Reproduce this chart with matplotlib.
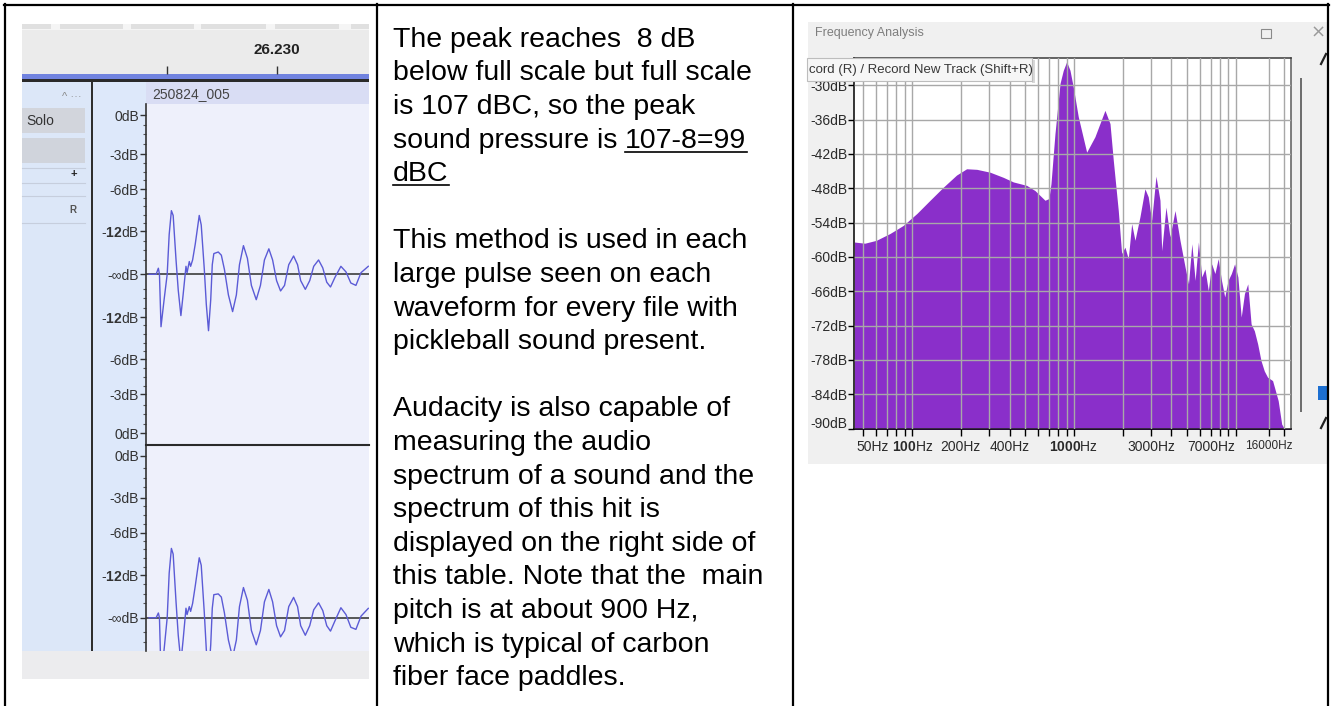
import matplotlib
matplotlib.use("Agg")
import matplotlib.pyplot as plt
from matplotlib.patches import Rectangle
from matplotlib.ticker import FixedLocator, NullFormatter, FixedFormatter
from matplotlib.transforms import ScaledTranslation

plt.rcParams['font.family'] = ['Liberation Sans', 'DejaVu Sans']
plt.rcParams['mathtext.fontset'] = 'custom'
plt.rcParams['mathtext.rm'] = 'Liberation Sans'
plt.rcParams['mathtext.bf'] = 'Liberation Sans:bold'

W, H = 1331, 706

# --- Audacity waveform: time in ms after 26.220 s, amplitude on the dB display (0 dB mark = 1)
wave_t = [4.23, 4.55, 4.65, 4.70, 4.77, 4.91, 5.05, 5.14, 5.24, 5.32, 5.45, 5.55, 5.67, 5.77,
          5.90, 5.95, 6.05, 6.11, 6.20, 6.32, 6.50, 6.59, 6.73, 6.82, 6.92, 7.02, 7.09, 7.16,
          7.36, 7.50, 7.64, 7.82, 8.01, 8.18, 8.32, 8.50, 8.68, 8.86, 9.08, 9.27, 9.45, 9.65,
          9.82, 10.0, 10.18, 10.36, 10.55, 10.77, 10.95, 11.09, 11.30, 11.50, 11.68, 11.90,
          12.09, 12.27, 12.44, 12.64, 12.91, 13.14, 13.36, 13.59, 13.82, 14.15]
wave_left = [0, 0, 0.038, 0, -0.33, -0.16, 0, 0.25, 0.40, 0.37, 0.09, -0.10, -0.26, -0.13,
             0.05, 0.01, 0.08, 0.05, 0.09, 0.19, 0.37, 0.31, 0.03, -0.19, -0.355, -0.16, 0.06, 0.13,
             0.14, 0.12, 0.03, -0.13, -0.235, -0.13, 0.06, 0.18, 0.10, -0.07, -0.16, -0.07, 0.09, 0.16,
             0.09, -0.04, -0.105, -0.07, 0.06, 0.115, 0.06, -0.04, -0.095, -0.04, 0.05, 0.09,
             0.04, -0.05, -0.08, -0.02, 0.05, 0.015, -0.055, -0.07, 0.01, 0.05]
wave_right = [0, 0, 0.03, 0, -0.36, -0.20, 0, 0.28, 0.436, 0.40, 0.10, -0.11, -0.28, -0.14,
              0.06, 0.02, 0.07, 0.04, 0.09, 0.20, 0.377, 0.33, 0.03, -0.20, -0.37, -0.17, 0.06, 0.145,
              0.15, 0.13, 0.03, -0.14, -0.25, -0.14, 0.07, 0.19, 0.11, -0.08, -0.17, -0.08, 0.10, 0.178,
              0.10, -0.05, -0.12, -0.08, 0.07, 0.128, 0.07, -0.05, -0.11, -0.05, 0.05, 0.094,
              0.045, -0.05, -0.084, -0.02, 0.063, 0.02, -0.06, -0.073, 0.01, 0.059]

db_pos_left = [1.0, 0.755, 0.535, 0.27, 0.0, -0.27, -0.535, -0.755, -1.0]
db_lab_left = ['0dB', '-3dB', '-6dB', r'-$\mathbf{12}$dB', '-\u221edB',
               r'-$\mathbf{12}$dB', '-6dB', '-3dB', '0dB']
db_pos_right = [1.017, 0.755, 0.535, 0.27, 0.0]
db_lab_right = ['0dB', '-3dB', '-6dB', r'-$\mathbf{12}$dB', '-\u221edB']
db_minor = [0.94, 0.88, 0.82, 0.70, 0.645, 0.59, 0.48, 0.43, 0.375, 0.32, 0.21, 0.15, 0.09]

# --- Frequency analysis spectrum
spec_freq = [44, 51, 60, 73, 88, 107, 129, 156, 188, 217, 251, 303, 366, 422, 510,
             574, 662, 700, 721, 763, 820, 859, 901, 945, 990, 1063, 1198, 1348, 1554, 1670,
             1750, 1879, 1971, 2066, 2166, 2273, 2383, 2557, 2745, 2878, 3020, 3213, 3401, 3486, 3702,
             3919, 4213, 4522, 4863, 5103, 5353, 5608, 5877, 6164, 6454, 6766, 7096, 7432, 7787, 8163,
             8551, 8959, 9391, 9838, 10306, 10806, 11319, 11864, 12440, 13030, 13660, 14320, 15000, 15720,
             16890, 18290, 19230, 20000, 21950]
spec_db = [-57.4, -57.6, -57.1, -55.9, -54.5, -52.4, -50.1, -47.8, -45.7, -44.6, -44.7, -45.2, -46.1, -46.9, -47.5,
           -48.4, -50.1, -49.8, -47.2, -38.5, -29.7, -27.4, -25.9, -27.4, -30.3, -35.5, -41.7, -39.0, -34.4, -36.7,
           -43.1, -51.9, -59.4, -58.3, -60.3, -54.2, -57.1, -53.0, -48.1, -49.5, -53.6, -45.9, -50.1, -58.9, -51.3,
           -56.5, -51.9, -57.1, -61.8, -64.7, -57.7, -64.1, -57.4, -63.5, -62.1, -65.9, -61.2, -62.9, -60.3, -64.1,
           -67.0, -64.1, -62.9, -61.2, -63.5, -70.5, -66.4, -64.7, -71.7, -72.9, -75.2, -78.1, -79.9, -81.0,
           -81.6, -85.1, -89.2, -90, -90]
freq_labels = [50, 100, 200, 400, 1000, 3000, 7000, 16000]
freq_label_text = ['50Hz', r'$\mathbf{100}$Hz', '200Hz', '400Hz', r'$\mathbf{1000}$Hz',
                   '3000Hz', '7000Hz', '16000Hz']
freq_grid = [60, 70, 80, 90, 300, 500, 600, 700, 800, 900, 2000, 4000, 5000, 6000,
             8000, 9000, 10000, 20000]
db_ticks = [-30, -36, -42, -48, -54, -60, -66, -72, -78, -84, -90]

text_lines = [
    "The peak reaches  8 dB",
    "below full scale but full scale",
    "is 107 dBC, so the peak",
    "sound pressure is ",
    "",
    "",
    "This method is used in each",
    "large pulse seen on each",
    "waveform for every file with",
    "pickleball sound present.",
    "",
    "Audacity is also capable of",
    "measuring the audio",
    "spectrum of a sound and the",
    "spectrum of this hit is",
    "displayed on the right side of",
    "this table. Note that the  main",
    "pitch is at about 900 Hz,",
    "which is typical of carbon",
    "fiber face paddles.",
]
TEXT_SIZE = 20.5

fig = plt.figure(figsize=(W / 100, H / 100), dpi=100)
fig.patch.set_facecolor('white')


def px_axes(x0, y0, x1, y1):
    return fig.add_axes([x0 / W, 1 - y1 / H, (x1 - x0) / W, (y1 - y0) / H])


def canvas_axes():
    a = fig.add_axes([0, 0, 1, 1])
    a.set_xlim(0, W)
    a.set_ylim(H, 0)
    a.axis('off')
    a.patch.set_alpha(0)
    return a


def box(a, x0, y0, x1, y1, fc, ec='none', lw=0, z=1):
    a.add_patch(Rectangle((x0, y0), x1 - x0, y1 - y0, fc=fc, ec=ec, lw=lw, zorder=z))


bg = canvas_axes()

# table borders
for x in [4.5, 376.5, 792.5, 1328]:
    bg.plot([x, x], [3.5, H], color='black', lw=1.6, zorder=5)
bg.plot([3.5, 1329], [4.5, 4.5], color='black', lw=1.6, zorder=5)

# ---------- left cell: Audacity screenshot ----------
box(bg, 22, 24, 369, 679, '#f1f1f3')
box(bg, 22, 24, 369, 30, '#f5f5f5')
for a0, a1 in [(22, 51), (60, 123), (131, 194), (201, 266), (275, 339), (351, 369)]:
    box(bg, a0, 24, a1, 29, '#e0e0e0', z=2)
box(bg, 22, 651, 369, 679, '#ececee')
box(bg, 22, 74, 369, 78.5, '#7183df', z=2)
box(bg, 22, 78.5, 369, 82, '#2a2a2a', z=2)
box(bg, 22, 82, 91, 651, '#dce7f8', z=2)
box(bg, 91, 82, 93, 651, '#2e2e2e', z=3)
box(bg, 93, 82, 146, 651, '#dde8fa', z=2)
box(bg, 146, 82, 369, 104, '#d9ddf4', z=2)
bg.text(152, 94, '250824_005', fontsize=10, color='#444444', va='center', zorder=4)
bg.text(62, 97, '^ \u00b7\u00b7\u00b7', fontsize=8, color='#8a8a8a', va='center', zorder=4)
box(bg, 22, 108, 85, 133, '#d2d5dc', z=3)
bg.text(26, 121, 'Solo', fontsize=10, color='#333333', va='center', zorder=4)
box(bg, 22, 138, 85, 163, '#d0d4dc', z=3)
for yy in [168, 183, 196, 223]:
    bg.plot([22, 85], [yy, yy], color='#c6cedd', lw=0.8, zorder=3)
bg.text(74, 174, '+', fontsize=8, color='#222222', ha='center', va='center', weight='bold', zorder=4)
bg.text(73, 210, 'R', fontsize=7, color='#555555', ha='center', va='center', weight='bold', zorder=4)

# time ruler
ruler = px_axes(22, 30, 369, 74)
ruler.set_facecolor('#ebebeb')
ruler.set_xlim(26.218409, 26.234182)
ruler.set_ylim(0, 1)
for s in ruler.spines.values():
    s.set_visible(False)
ruler.set_yticks([])
ruler.set_xticks([26.225, 26.230])
ruler.tick_params(axis='x', direction='in', length=6, width=1, color='#333333', labelbottom=False)
ruler.text(26.230, 0.55, '26.230', fontsize=11, weight='bold', color='#222222',
           ha='center', va='center')


def wave_axes(y0, y1, ylim, t, a, pos, labels):
    ax = px_axes(146, y0, 369, y1)
    ax.set_facecolor('#eef0fb')
    ax.set_xlim(4.091, 14.182)
    ax.set_ylim(*ylim)
    ax.plot(t, a, color='#5b5bd6', lw=1.0, zorder=3)
    ax.axhline(0, color='#4a4a4a', lw=1.3, zorder=2)
    for s in ['top', 'right', 'bottom']:
        ax.spines[s].set_visible(False)
    ax.spines['left'].set_color('#333333')
    ax.spines['left'].set_linewidth(1.2)
    ax.set_xticks([])
    ax.set_yticks(pos)
    ax.set_yticklabels(labels)
    minor = [m for m in db_minor] + [-m for m in db_minor]
    ax.yaxis.set_minor_locator(FixedLocator([m for m in minor if ylim[0] < m < ylim[1]]))
    ax.tick_params(axis='y', which='major', direction='out', length=4, width=1,
                   color='#333333', labelsize=10, labelcolor='#333333', pad=1)
    ax.tick_params(axis='y', which='minor', direction='out', length=2.5, width=0.8, color='#555555')
    return ax


wave_axes(104, 445, (-1.074, 1.071), wave_t, wave_left, db_pos_left, db_lab_left)
wave_axes(445, 651, (-0.209, 1.086), wave_t, wave_right, db_pos_right, db_lab_right)
bg2 = canvas_axes()
bg2.plot([146, 369], [445, 445], color='#2a2a2a', lw=1.5)

# ---------- middle cell: text ----------
base0, step = 46.7, 33.6
renderer = fig.canvas.get_renderer()
for i, line in enumerate(text_lines):
    if line:
        bg.text(393, base0 + i * step, line, fontsize=TEXT_SIZE, color='black', va='baseline')
prefix = bg.text(393, 200, 'sound pressure is ', fontsize=TEXT_SIZE, va='baseline')
x_u = 393 + prefix.get_window_extent(renderer).width
prefix.remove()
t1 = bg.text(x_u, base0 + 3 * step, '107-8=99', fontsize=TEXT_SIZE, color='black', va='baseline')
t2 = bg.text(393, base0 + 4 * step, 'dBC', fontsize=TEXT_SIZE, color='black', va='baseline')
w1 = t1.get_window_extent(renderer).width
w2 = t2.get_window_extent(renderer).width
bg.plot([x_u, x_u + w1], [base0 + 3 * step + 4, base0 + 3 * step + 4], color='black', lw=1.2)
bg.plot([393, 393 + w2], [base0 + 4 * step + 4, base0 + 4 * step + 4], color='black', lw=1.2)

# ---------- right cell: Frequency Analysis window ----------
box(bg, 808, 22, 1327, 464, '#f0f0f0')
bg.text(815, 33, 'Frequency Analysis', fontsize=9, color='#7e7e7e', va='center')
box(bg, 1261, 29, 1271, 38, 'none', ec='#8a8a8a', lw=0.8, z=3)
bg.text(1318, 33, '\u00d7', fontsize=13, color='#9a9a9a', ha='center', va='center',
        family='DejaVu Sans')
box(bg, 1300, 78, 1302, 412, '#6e6e6e', z=3)
box(bg, 1318, 386, 1327, 400, '#1c6fd1', z=3)
bg.plot([1321, 1326], [64, 54], color='#222222', lw=1.6)
bg.plot([1321, 1326], [428, 418], color='#222222', lw=1.6)

spec = px_axes(854, 57.7, 1291, 428.7)
spec.set_facecolor('white')
spec.set_xscale('log')
spec.set_xlim(43.7, 21950)
spec.set_ylim(-90, -25.2)
spec.fill_between(spec_freq, spec_db, -95, color='#8a2fca', lw=0, zorder=1)
spec.xaxis.set_major_locator(FixedLocator(freq_labels))
spec.xaxis.set_major_formatter(FixedFormatter(freq_label_text))
spec.xaxis.set_minor_locator(FixedLocator(freq_grid))
spec.xaxis.set_minor_formatter(NullFormatter())
spec.set_yticks(db_ticks)
spec.set_yticklabels([f'{d}dB' for d in db_ticks])
spec.set_axisbelow(False)
spec.grid(which='both', axis='x', color='#a8a8a8', lw=1.0)
spec.grid(which='major', axis='y', color='#a8a8a8', lw=1.0)
spec.tick_params(axis='both', which='both', direction='out', color='black', width=1,
                 labelsize=10, labelcolor='#2a2a2a')
spec.tick_params(axis='x', which='both', length=5, pad=3)
spec.tick_params(axis='y', length=4, pad=0.5)
xt = spec.xaxis.get_major_ticks()
xt[0].label1.set_transform(xt[0].label1.get_transform() + ScaledTranslation(0.09, 0, fig.dpi_scale_trans))
xt[-1].label1.set_fontsize(8.5)
yt = spec.yaxis.get_major_ticks()
yt[-1].label1.set_transform(yt[-1].label1.get_transform() + ScaledTranslation(0, 0.06, fig.dpi_scale_trans))
spec.spines['left'].set_color('black')
spec.spines['bottom'].set_color('black')
spec.spines['top'].set_color('#3a3a3a')
spec.spines['right'].set_color('#5a5a5a')
for s in spec.spines.values():
    s.set_linewidth(1.1)

top = canvas_axes()
box(top, 807, 58, 1032, 81, '#f6f6f6', ec='#bdbdbd', lw=0.8, z=3)
box(top, 1032, 60, 1035, 83, '#d8d8d8', z=2)
top.text(809, 69.5, 'cord (R) / Record New Track (Shift+R)', fontsize=9.5, color='#383838',
         va='center', zorder=4)

fig.savefig('out.png', dpi=100)
